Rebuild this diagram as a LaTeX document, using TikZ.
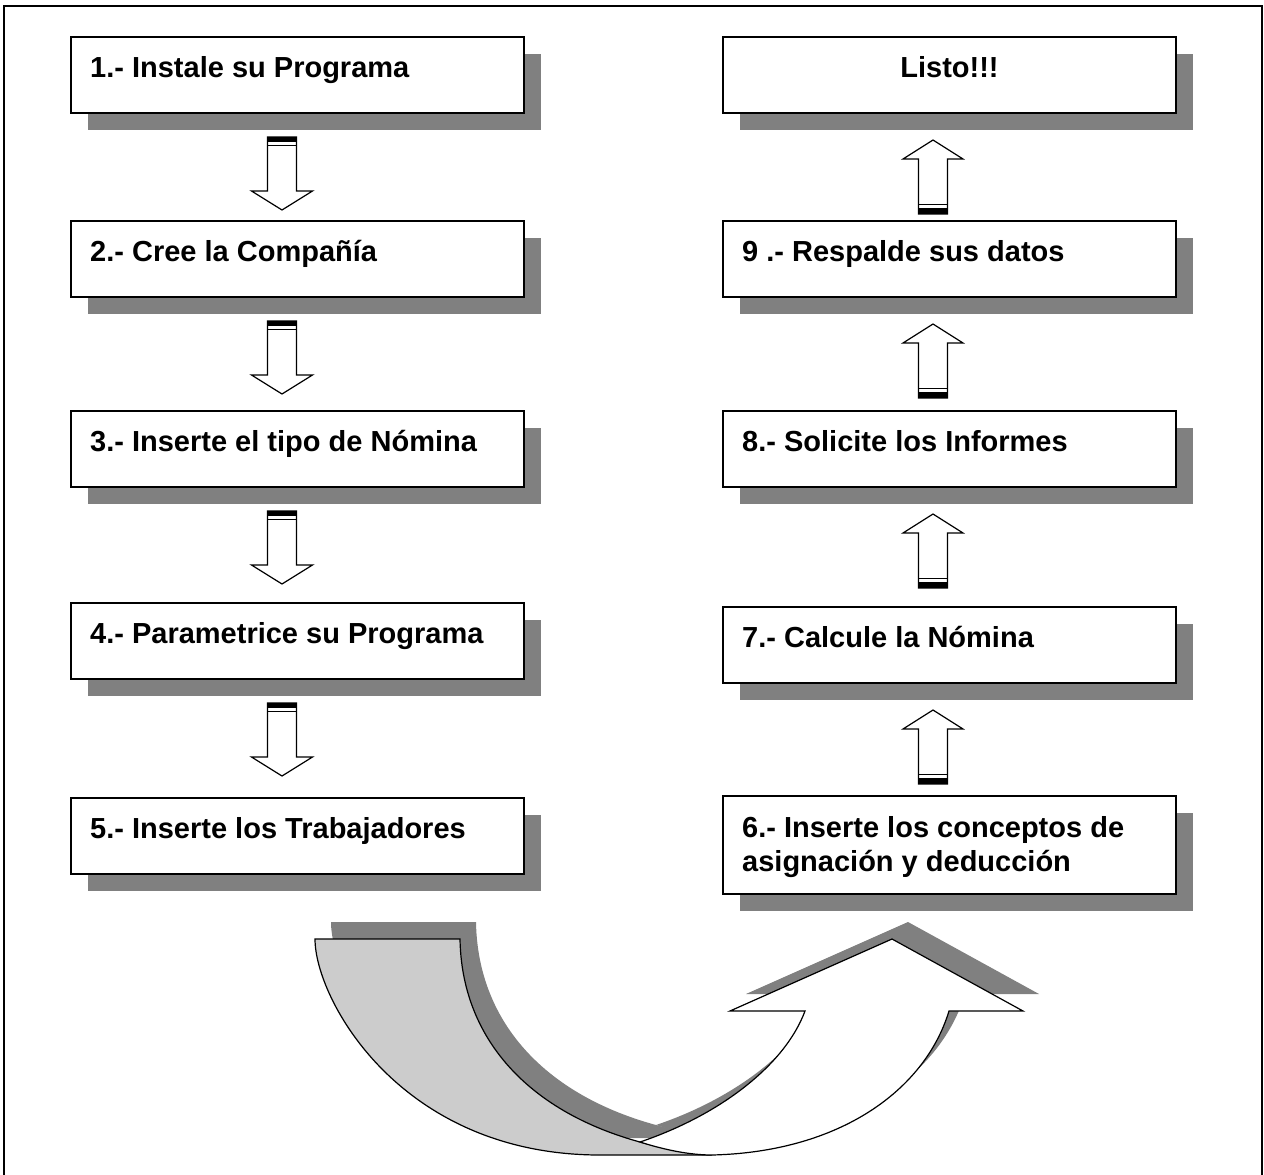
\documentclass[tikz,border=0pt]{standalone}
\usepackage{fontspec}
\setmainfont{Liberation Sans}
\usetikzlibrary{calc,shadows}
\definecolor{shd}{HTML}{808080}
\definecolor{lgray}{HTML}{CCCCCC}
\tikzset{
  stepbox/.style={draw=black, line width=2pt, fill=white, rectangle, anchor=north west,
    inner sep=0pt, minimum width=453pt, minimum height=76pt,
    drop shadow={shadow xshift=17pt, shadow yshift=-17pt, fill=shd, opacity=1}},
  steptxt/.style={anchor=base west, inner sep=0pt, font=\bfseries\fontsize{29}{34}\selectfont},
  blockarr/.style={draw=black, line width=1.2pt, fill=white, line join=miter},
  darr/.pic={
    \path[blockarr] (-14.5,0) -- (14.5,0) -- (14.5,54) -- (30.5,54) -- (0,73) -- (-30.5,54) -- (-14.5,54) -- cycle;
    \fill[black] (-14.5,0) rectangle (14.5,5);
    \draw[line width=1.2pt] (-14.5,8.5) -- (14.5,8.5);
  },
  uarr/.pic={
    \path[blockarr] (-14.5,74) -- (14.5,74) -- (14.5,19) -- (30,19) -- (0,0) -- (-30,19) -- (-14.5,19) -- cycle;
    \fill[black] (-14.5,68) rectangle (14.5,74);
    \draw[line width=1.2pt] (-14.5,64.5) -- (14.5,64.5);
  },
  ribbon/.style={draw=black, line width=1.2pt, line join=miter},
}
\begin{document}
\begin{tikzpicture}[x=1pt,y=-1pt]
\useasboundingbox (0,0) rectangle (1264,1175);
\fill[white] (0,0) rectangle (1264,1175);
% frame
\draw[line width=2pt] (4,1180) -- (4,6) -- (1262,6) -- (1262,1180);

% left column
\node[stepbox] (b1) at (70,36) {};
\node[stepbox] (b2) at (70,220) {};
\node[stepbox] (b3) at (70,410) {};
\node[stepbox] (b4) at (70,602) {};
\node[stepbox] (b5) at (70,797) {};
% right column
\node[stepbox] (b10) at (722,36) {};
\node[stepbox] (b9) at (722,220) {};
\node[stepbox] (b8) at (722,410) {};
\node[stepbox] (b7) at (722,606) {};
\node[stepbox, minimum height=98pt] (b6) at (722,795) {};

% texts
\node[steptxt] (t1) at ($(b1.north west)+(20,41)$) {1.- Instale su Programa};
\node[steptxt] (t2) at ($(b2.north west)+(20,41)$) {2.- Cree la Compañía};
\node[steptxt] (t3) at ($(b3.north west)+(20,41)$) {3.- Inserte el tipo de Nómina};
\node[steptxt] (t4) at ($(b4.north west)+(20,41)$) {4.- Parametrice su Programa};
\node[steptxt] (t5) at ($(b5.north west)+(20,41)$) {5.- Inserte los Trabajadores};
\node[steptxt] (t6a) at ($(b6.north west)+(20,42)$) {6.- Inserte los conceptos de};
\node[steptxt] (t6b) at ($(b6.north west)+(20,76)$) {asignación y deducción};
\node[steptxt] (t7) at ($(b7.north west)+(20,41)$) {7.- Calcule la Nómina};
\node[steptxt] (t8) at ($(b8.north west)+(20,41)$) {8.- Solicite los Informes};
\node[steptxt] (t9) at ($(b9.north west)+(20,41)$) {9 .- Respalde sus datos};
\node[steptxt, anchor=base] (t10) at ($(b10.north)+(0,41)$) {Listo!!!};

% block arrows
\pic at ($(b1.south west)+(212,23)$) {darr};
\pic at ($(b2.south west)+(212,23)$) {darr};
\pic at ($(b3.south west)+(212,23)$) {darr};
\pic at ($(b4.south west)+(212,23)$) {darr};
\pic at ($(b10.south west)+(211,26)$) {uarr};
\pic at ($(b9.south west)+(211,26)$) {uarr};
\pic at ($(b8.south west)+(211,26)$) {uarr};
\pic at ($(b7.south west)+(211,26)$) {uarr};

% curved U-turn arrow: shadow
\begin{scope}[shift={(16,-17)}]
\fill[shd] (315,939) -- (460,939) .. controls (462,1060) and (560,1140) .. (712,1155)
  -- (600,1155) .. controls (400,1155) and (315,999) .. (315,939) -- cycle;
\fill[shd] (949,1011) -- (1023,1011) -- (892,939) -- (730,1011) -- (805,1011)
  .. controls (785,1065) and (720,1115) .. (640,1142)
  .. controls (665,1150) and (690,1155) .. (712,1155)
  .. controls (840,1152) and (925,1090) .. (949,1011) -- cycle;
\end{scope}
% back (gray) part
\path[ribbon, fill=lgray] (315,939) -- (460,939) .. controls (462,1060) and (560,1140) .. (712,1155)
  -- (600,1155) .. controls (400,1155) and (315,999) .. (315,939) -- cycle;
% front (white) part
\path[ribbon, fill=white] (949,1011) -- (1023,1011) -- (892,939) -- (730,1011) -- (805,1011)
  .. controls (785,1065) and (720,1115) .. (640,1142)
  .. controls (665,1150) and (690,1155) .. (712,1155)
  .. controls (840,1152) and (925,1090) .. (949,1011) -- cycle;
\end{tikzpicture}
\end{document}
